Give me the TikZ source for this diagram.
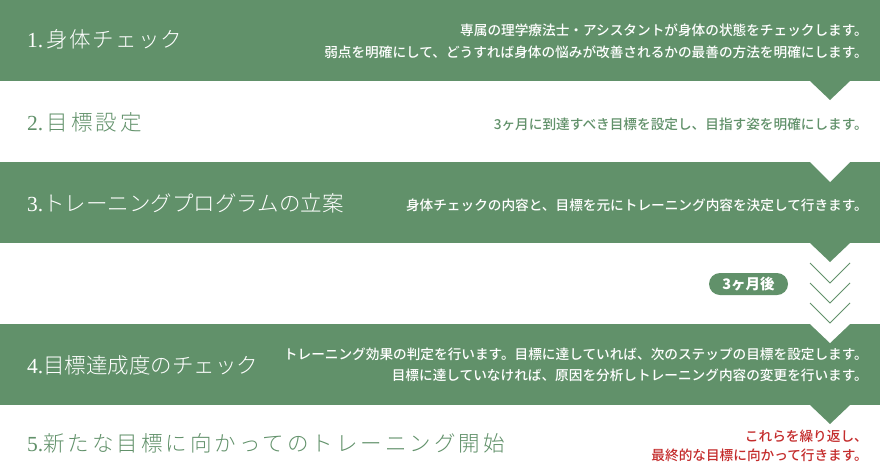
\documentclass[tikz,border=0pt]{standalone}
\usepackage{fontspec}
\setmainfont{Liberation Serif}
\newfontfamily\jp{Noto Sans CJK JP Medium}
\newfontfamily\jpl{Noto Sans CJK JP Light}
\definecolor{gr}{RGB}{97,145,106}
\definecolor{rd}{RGB}{196,44,44}
\newcommand{\ttlj}[2]{{\jpl\addfontfeature{LetterSpace=#1}#2}}
\begin{document}
\begin{tikzpicture}[x=1pt,y=-1pt,
  ttl/.style={anchor=west,inner sep=0pt,font=\fontsize{21.5}{24}\selectfont},
  ttlw/.style={ttl,text=white},
  ttlg/.style={ttl,text=gr},
  dsc/.style={anchor=east,inner sep=0pt,align=right,font=\jp\fontsize{13.65}{21.5}\selectfont},
  dscw/.style={dsc,text=white},
  dscg/.style={dsc,text=gr},
  dscr/.style={dsc,text=rd,font=\jp\fontsize{13.65}{19}\selectfont},
  chev/.style={draw=gr,line width=0.8pt},
  pill/.style={fill=gr,text=white,rounded corners=11pt,minimum width=79pt,minimum height=22pt,inner sep=0pt,font=\jp\bfseries\fontsize{14.5}{16}\selectfont}
]
\useasboundingbox (0,0) rectangle (880,464);
\fill[white] (0,0) rectangle (880,464);
% bands
\fill[gr] (0,0) rectangle (880,81);
\fill[gr] (0,162) rectangle (880,243);
\fill[gr] (0,324) rectangle (880,405);
% triangles
\fill[gr] (810,81) -- (850,81) -- (830,100) -- cycle;
\fill[white] (810,162) -- (850,162) -- (830,182) -- cycle;
\fill[gr] (810,243) -- (850,243) -- (830,262) -- cycle;
\fill[white] (810,324) -- (850,324) -- (830,343) -- cycle;
\fill[gr] (810,405) -- (850,405) -- (830,424) -- cycle;
% chevrons
\draw[chev] (810,263) -- (830,283) -- (850,263);
\draw[chev] (810,283) -- (830,303) -- (850,283);
\draw[chev] (810,303) -- (830,323) -- (850,303);
% titles
\node[ttlw] (t1) at (27,39) {1.\,\ttlj{6}{身体チェック}};
\node[ttlg] (t2) at (27,122) {2.\,\ttlj{14}{目標設定}};
\node[ttlw] (t3) at (27,203) {3.\ttlj{0}{トレーニングプログラムの立案}};
\node[ttlw] (t4) at (27,365) {4.\ttlj{0}{目標達成度のチェック}};
\node[ttlg] (t5) at (27,443) {5.\ttlj{14}{新たな目標に向かってのトレーニング開始}};
% descriptions
\node[dscw] (d1) at (868,41.5) {専属の理学療法士・アシスタントが身体の状態をチェックします。\\弱点を明確にして、どうすれば身体の悩みが改善されるかの最善の方法を明確にします。};
\node[dscg] (d2) at (868,124) {3ヶ月に到達すべき目標を設定し、目指す姿を明確にします。};
\node[dscw] (d3) at (868,205) {身体チェックの内容と、目標を元にトレーニング内容を決定して行きます。};
\node[dscw] (d4) at (868,365) {トレーニング効果の判定を行います。目標に達していれば、次のステップの目標を設定します。\\目標に達していなければ、原因を分析しトレーニング内容の変更を行います。};
\node[dscr] (d5) at (868,446) {これらを繰り返し、\\最終的な目標に向かって行きます。};
% pill
\node[pill] (p) at (748.5,284) {3ヶ月後};
\end{tikzpicture}
\end{document}
